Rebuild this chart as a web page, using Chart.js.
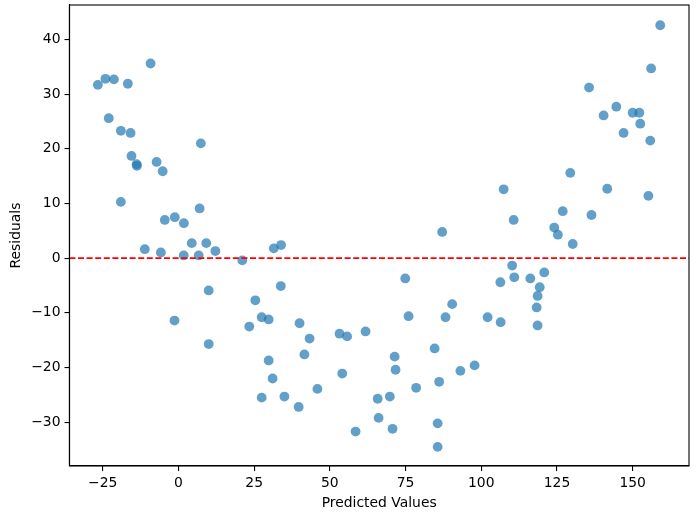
<!DOCTYPE html>
<html>
<head>
<meta charset="utf-8">
<script src="https://cdn.jsdelivr.net/npm/chart.js@4.4.1/dist/chart.umd.min.js"></script>
<style>
  html, body { margin: 0; padding: 0; background: #fff; }
  #wrap { width: 698px; height: 520px; position: relative; }
</style>
</head>
<body>
<div id="wrap"><canvas id="c" width="698" height="520"></canvas></div>
<script>
const predicted = [
  -26.6, -24.1, -21.3, -16.7, -9.2, -23.0, -19.0, -15.8, 7.4, -15.5,
  -13.8, -13.7, -7.2, -5.2, -19.0, 7.0, -4.5, -1.2, 1.8, 4.4,
  9.2, -11.1, -5.8, 1.75, 6.7, 12.2, 21.1, 31.5, 33.9, 10.0,
  33.8, 25.4, -1.3, 27.5, 29.8, 23.4, 40.0, 10.0, 43.3, 53.2,
  55.7, 61.8, 41.6, 29.8, 71.4, 71.7, 54.1, 31.1, 45.9, 27.5,
  35.0, 65.8, 69.8, 39.7, 66.1, 58.5, 70.7, 107.4, 110.7, 124.1,
  125.3, 87.1, 110.2, 74.9, 106.3, 110.9, 116.2, 120.8, 119.3, 118.6,
  118.3, 118.6, 90.4, 76.0, 88.2, 102.1, 106.4, 84.6, 97.8, 93.1,
  86.1, 78.5, 85.6, 85.6, 159.1, 156.1, 135.6, 144.6, 140.4, 150.0,
  152.2, 152.5, 147.0, 155.8, 129.4, 141.6, 155.2, 126.9, 136.4, 130.2
];
const residuals = [
  31.7, 32.8, 32.7, 31.9, 35.6, 25.6, 23.3, 22.9, 21.0, 18.7,
  17.2, 16.9, 17.6, 15.9, 10.3, 9.1, 7.0, 7.5, 6.4, 2.75,
  2.75, 1.65, 1.05, 0.5, 0.5, 1.3, -0.4, 1.8, 2.4, -5.9,
  -5.1, -7.7, -11.4, -10.8, -11.2, -12.5, -11.9, -15.7, -14.7, -13.8,
  -14.3, -13.4, -17.6, -18.7, -18.0, -20.4, -21.1, -22.0, -23.9, -25.5,
  -25.3, -25.7, -25.3, -27.2, -29.2, -31.7, -31.2, 12.6, 7.0, 5.6,
  4.3, 4.8, -1.35, -3.7, -4.4, -3.5, -3.7, -2.6, -5.3, -6.9,
  -9.0, -12.3, -8.4, -10.6, -10.8, -10.8, -11.7, -16.5, -19.6, -20.6,
  -22.6, -23.7, -30.2, -34.5, 42.6, 34.7, 31.2, 27.7, 26.1, 26.6,
  26.6, 24.6, 22.9, 21.5, 15.6, 12.7, 11.4, 8.6, 7.9, 2.6
];
const xTickValues = [-25, 0, 25, 50, 75, 100, 125, 150];
const yTickValues = [-30, -20, -10, 0, 10, 20, 30, 40];
const xLabel = 'Predicted Values';
const yLabel = 'Residuals';

const points = predicted.map((x, i) => ({ x: x, y: residuals[i] }));
const fmt = v => (v < 0 ? '\u2212' + Math.abs(v) : String(v));
const FONT = 'DejaVu Sans';

const framePlugin = {
  id: 'frame',
  afterDatasetsDraw(chart) {
    const { ctx, chartArea: a, scales } = chart;
    const y0 = scales.y.getPixelForValue(0);
    ctx.save();
    ctx.beginPath();
    ctx.rect(a.left, a.top, a.right - a.left, a.bottom - a.top);
    ctx.clip();
    ctx.strokeStyle = '#ff0000';
    ctx.lineWidth = 1.8;
    ctx.setLineDash([6, 2.6]);
    ctx.beginPath();
    ctx.moveTo(a.left, y0);
    ctx.lineTo(a.right, y0);
    ctx.stroke();
    ctx.restore();
  },
  afterDraw(chart) {
    const { ctx, chartArea: a } = chart;
    ctx.save();
    ctx.strokeStyle = '#000';
    ctx.lineWidth = 1.1;
    ctx.strokeRect(a.left, a.top, a.right - a.left, a.bottom - a.top);
    ctx.restore();
  }
};

new Chart(document.getElementById('c'), {
  type: 'scatter',
  data: {
    datasets: [{
      data: points,
      backgroundColor: 'rgba(31,119,180,0.7)',
      borderWidth: 0,
      pointRadius: 4.9,
      pointHoverRadius: 4.9
    }]
  },
  options: {
    responsive: false,
    animation: false,
    devicePixelRatio: 1,
    layout: { padding: { left: 0, top: 5, right: 9, bottom: 0 } },
    plugins: { legend: { display: false }, tooltip: { enabled: false } },
    scales: {
      x: {
        type: 'linear',
        min: -36.0,
        max: 168.6,
        afterBuildTicks: s => { s.ticks = xTickValues.map(v => ({ value: v })); },
        afterFit: s => { s.height = 54; s.paddingLeft = 0; s.paddingRight = 0; },
        ticks: { color: '#000', padding: 4, maxRotation: 0, autoSkip: false,
                 font: { family: FONT, size: 13.9 }, callback: v => fmt(v) },
        grid: { display: true, drawOnChartArea: false, drawTicks: true, tickLength: 4.9, color: '#000', lineWidth: 1.1 },
        border: { display: true, color: '#000', width: 1.1 },
        title: { display: true, text: xLabel, color: '#000', font: { family: FONT, size: 13.9 }, padding: { top: 0, bottom: 8.5 } }
      },
      y: {
        type: 'linear',
        min: -38.0,
        max: 46.3,
        afterBuildTicks: s => { s.ticks = yTickValues.map(v => ({ value: v })); },
        afterFit: s => { s.width = 69.4; s.paddingTop = 0; s.paddingBottom = 0; },
        ticks: { color: '#000', padding: 4, autoSkip: false,
                 font: { family: FONT, size: 13.9 }, callback: v => fmt(v) },
        grid: { display: true, drawOnChartArea: false, drawTicks: true, tickLength: 4.9, color: '#000', lineWidth: 1.1 },
        border: { display: true, color: '#000', width: 1.1 },
        title: { display: true, text: yLabel, color: '#000', font: { family: FONT, size: 13.9 }, padding: { top: 8, bottom: 0 } }
      }
    }
  },
  plugins: [framePlugin]
});
</script>
</body>
</html>
